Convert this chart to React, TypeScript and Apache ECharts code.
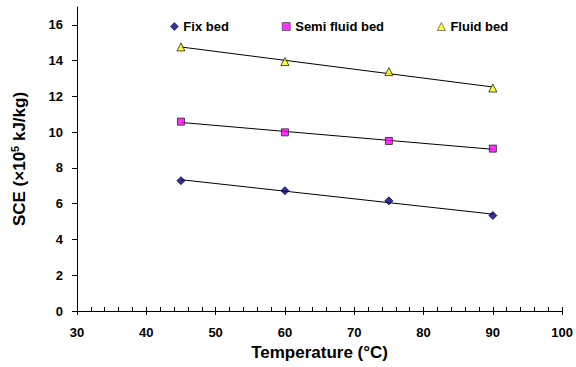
import React, { useEffect, useRef } from "react";
import * as echarts from "echarts";

const temperatures = [45, 60, 75, 90];
const fixBed = [7.29, 6.73, 6.16, 5.34];
const semiFluidBed = [10.59, 9.99, 9.51, 9.08];
const fluidBed = [14.77, 13.95, 13.39, 12.47];
const seriesNames = ["Fix bed", "Semi fluid bed", "Fluid bed"];
const yTicks = [0, 2, 4, 6, 8, 10, 12, 14, 16];

function fitLine(xs: number[], ys: number[]) {
  const n = xs.length;
  const mx = xs.reduce((a, b) => a + b, 0) / n;
  const my = ys.reduce((a, b) => a + b, 0) / n;
  let sxy = 0;
  let sxx = 0;
  for (let i = 0; i < n; i++) {
    sxy += (xs[i] - mx) * (ys[i] - my);
    sxx += (xs[i] - mx) * (xs[i] - mx);
  }
  const slope = sxy / sxx;
  const x0 = xs[0];
  const x1 = xs[n - 1];
  return [
    [x0, my + slope * (x0 - mx)],
    [x1, my + slope * (x1 - mx)],
  ];
}

export default function App() {
  const ref = useRef<HTMLDivElement>(null);
  useEffect(() => {
    if (!ref.current) return;
    const chart = echarts.init(ref.current, null, { renderer: "svg" });
    const font = "Liberation Sans, Arial, sans-serif";
    const all = [fixBed, semiFluidBed, fluidBed];
    const styles = [
      { symbol: "diamond", color: "#000080", border: "#000040", size: 8 },
      { symbol: "rect", color: "#FF00FF", border: "#222222", size: 7 },
      { symbol: "triangle", color: "#FFFF00", border: "#222222", size: 8 },
    ];
    const trendSeries = all.map((ys) => ({
      type: "line",
      data: fitLine(temperatures, ys),
      showSymbol: false,
      symbol: "none",
      lineStyle: { color: "#000000", width: 1 },
      silent: true,
      z: 1,
    }));
    const pointSeries = all.map((ys, i) => ({
      name: seriesNames[i],
      type: "scatter",
      data: temperatures.map((t, j) => [t, ys[j]]),
      symbol: styles[i].symbol,
      symbolSize: styles[i].size,
      itemStyle: {
        color: styles[i].color,
        borderColor: styles[i].border,
        borderWidth: 1,
      },
      z: 3,
    }));
    chart.setOption({
      animation: false,
      backgroundColor: "#ffffff",
      grid: { left: 77, right: 13, top: 7, bottom: 56, containLabel: false },
      legend: {
        data: seriesNames.map((n, i) => ({
          name: n,
          icon: styles[i].symbol,
          itemStyle: { borderWidth: 0.7 },
        })),
        top: 15,
        left: 165,
        itemGap: 53,
        itemWidth: 8,
        itemHeight: 8,
        textStyle: {
          fontFamily: font,
          fontWeight: "bold",
          fontSize: 13,
          color: "#000",
        },
      },
      xAxis: [
        {
          type: "value",
          min: 30,
          max: 100,
          interval: 10,
          name: "Temperature (°C)",
          nameLocation: "middle",
          nameGap: 33,
          nameTextStyle: {
            fontFamily: font,
            fontWeight: "bold",
            fontSize: 17,
            color: "#000",
          },
          axisLine: { lineStyle: { color: "#000", width: 1 } },
          axisTick: { inside: true, length: 4, lineStyle: { color: "#000" } },
          minorTick: {
            show: true,
            splitNumber: 5,
            length: 4,
            lineStyle: { color: "#000" },
          },
          axisLabel: {
            fontFamily: font,
            fontWeight: "bold",
            fontSize: 13,
            color: "#000",
            margin: 15,
          },
          splitLine: { show: false },
        },
        {
          type: "value",
          min: 30,
          max: 100,
          interval: 10,
          position: "bottom",
          axisLine: { show: false },
          axisTick: { inside: false, length: 4, lineStyle: { color: "#000" } },
          axisLabel: { show: false },
          splitLine: { show: false },
        },
      ],
      yAxis: {
        type: "value",
        min: 0,
        max: 17,
        interval: 2,
        name: "SCE (×10{sup|5} kJ/kg)",
        nameLocation: "middle",
        nameGap: 48,
        nameTextStyle: {
          fontFamily: font,
          fontWeight: "bold",
          fontSize: 17,
          color: "#000",
          rich: {
            sup: {
              fontFamily: font,
              fontWeight: "bold",
              fontSize: 11,
              color: "#000",
              verticalAlign: "top",
              padding: [0, 0, 9, 0],
            },
          },
        },
        axisLine: { show: true, lineStyle: { color: "#000", width: 1 } },
        axisTick: {
          show: true,
          length: 5,
          customValues: yTicks,
          lineStyle: { color: "#000" },
        },
        axisLabel: {
          customValues: yTicks,
          fontFamily: font,
          fontWeight: "bold",
          fontSize: 13,
          color: "#000",
          margin: 14,
        },
        splitLine: { show: false },
      },
      series: [...trendSeries, ...pointSeries],
    });
    return () => chart.dispose();
  }, []);
  return <div ref={ref} style={{ width: 576, height: 367, position: "absolute", left: 0, top: 0 }} />;
}
